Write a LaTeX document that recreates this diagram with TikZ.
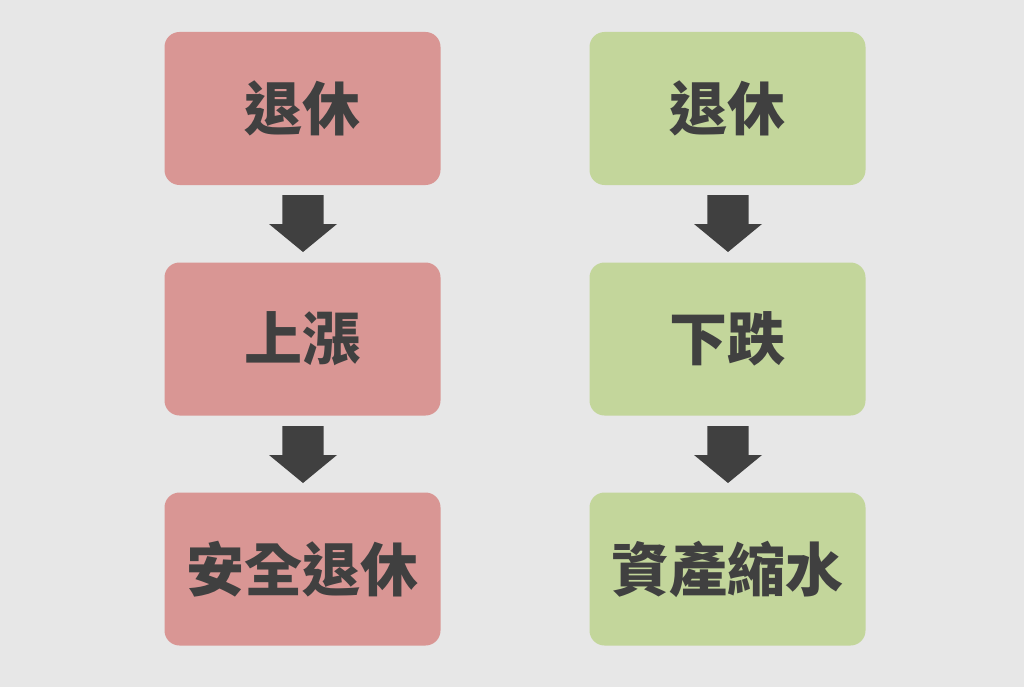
\documentclass[tikz,border=0pt]{standalone}
\usepackage{fontspec}
\newfontfamily\cjk{Noto Sans CJK TC Black}
\definecolor{bg}{HTML}{E7E7E7}
\definecolor{redbox}{HTML}{D99694}
\definecolor{greenbox}{HTML}{C3D69B}
\definecolor{dark}{HTML}{404040}
\tikzset{
  box/.style={rounded corners=15pt, minimum width=276pt, minimum height=153pt, inner sep=0pt,
    text=dark, font=\cjk\fontsize{58}{62}\selectfont},
  redb/.style={box, fill=redbox},
  greenb/.style={box, fill=greenbox},
  blockarrow/.style={fill=dark, draw=none}
}
\newcommand{\blockarrow}[2]{% center x, top y
  \fill[blockarrow] (#1-20.7,#2) -- (#1+20.7,#2) -- (#1+20.7,#2+29) -- (#1+34,#2+29)
    -- (#1,#2+57) -- (#1-34,#2+29) -- (#1-20.7,#2+29) -- cycle;}
\begin{document}
\begin{tikzpicture}[x=1pt,y=-1pt]
\fill[bg] (0,0) rectangle (1024,687);
\useasboundingbox (0,0) rectangle (1024,687);
\node[redb] (l1) at (302.5,108.5) {退休};
\node[redb] (l2) at (302.5,339) {上漲};
\node[redb] (l3) at (302.5,569) {安全退休};
\node[greenb] (r1) at (727.5,108.5) {退休};
\node[greenb] (r2) at (727.5,339) {下跌};
\node[greenb] (r3) at (727.5,569) {資產縮水};
\blockarrow{303}{195}
\blockarrow{303}{426}
\blockarrow{728}{195}
\blockarrow{728}{426}
\end{tikzpicture}
\end{document}
